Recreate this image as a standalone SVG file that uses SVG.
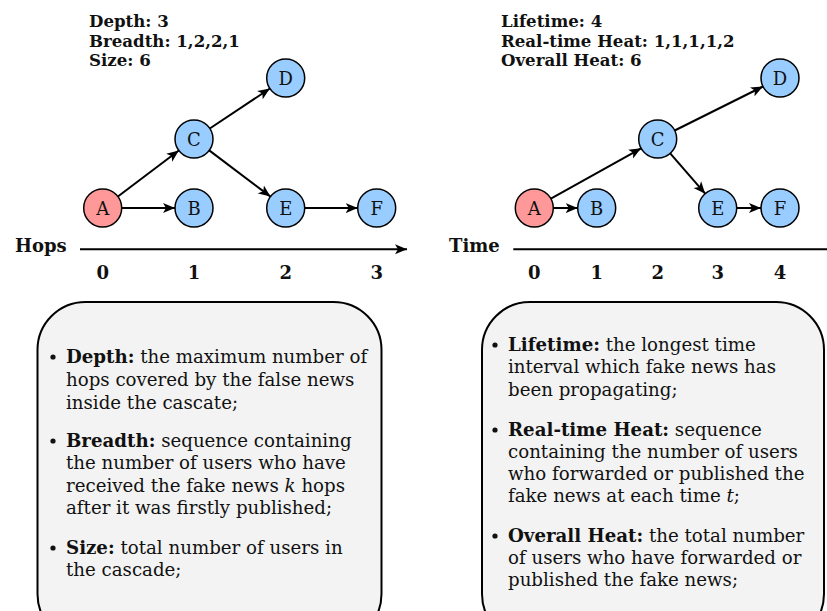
<svg xmlns="http://www.w3.org/2000/svg" width="827" height="611" viewBox="0 0 827 611">
<defs>
<marker id="ah" markerUnits="userSpaceOnUse" markerWidth="13" markerHeight="11" refX="12" refY="5.5" orient="auto">
<path d="M0,0.5 L12,5.5 L0,10.5 L3,5.5 Z" fill="#000"/>
</marker>
<style>
.n circle{stroke:#000;stroke-width:1.5}
.blue{fill:#99ccff}
.red{fill:#ff9999}
.nl{font-family:"DejaVu Serif",serif;font-size:18px;text-anchor:middle;dominant-baseline:central;fill:#111}
.e{stroke:#000;stroke-width:2;fill:none;marker-end:url(#ah)}
.ax{stroke:#000;stroke-width:2;fill:none}
.hd{font-family:"DejaVu Serif",serif;font-size:16.6px;font-weight:bold;fill:#111}
.tick{font-family:"DejaVu Serif",serif;font-size:18px;font-weight:bold;text-anchor:middle;fill:#111}
.axl{font-family:"DejaVu Serif",serif;font-size:18px;font-weight:bold;fill:#111}
.box{fill:#f3f3f3;stroke:#000;stroke-width:2}
.bt{font-family:"DejaVu Serif",serif;font-size:18.2px;fill:#111}
.b{font-weight:bold}
.i{font-style:italic}
</style>
</defs>
<rect width="827" height="611" fill="#fff"/>

<g id="left-stats">
<text class="hd" x="89" y="27">Depth: 3</text>
<text class="hd" x="89" y="46.5">Breadth: 1,2,2,1</text>
<text class="hd" x="89" y="66">Size: 6</text>
</g>
<g id="right-stats">
<text class="hd" x="501" y="27">Lifetime: 4</text>
<text class="hd" x="501" y="46.5">Real-time Heat: 1,1,1,1,2</text>
<text class="hd" x="501" y="66">Overall Heat: 6</text>
</g>

<g id="connectors">
<path class="e" d="M121.7,208 L175,208"/>
<path class="e" d="M117.9,196.5 L178.8,150.5"/>
<path class="e" d="M209.8,128.5 L269.9,88.5"/>
<path class="e" d="M209.2,150.4 L270.5,196.6"/>
<path class="e" d="M304.7,208 L357.7,208"/>
<path class="e" d="M553.3,208 L577.7,208"/>
<path class="e" d="M550.9,198.7 L641.1,148.3"/>
<path class="e" d="M674.7,130.5 L763,86.5"/>
<path class="e" d="M670.2,153.3 L705.2,193.7"/>
<path class="e" d="M736.7,208 L761,208"/>
</g>

<g id="hops-axis">
<path class="e" d="M80,249.3 L407,249.3"/>
<text class="axl" x="15" y="252">Hops</text>
<text class="tick" x="102.7" y="279">0</text>
<text class="tick" x="194" y="279">1</text>
<text class="tick" x="285.7" y="279">2</text>
<text class="tick" x="376.7" y="279">3</text>
</g>
<g id="time-axis">
<path class="ax" d="M513.3,249.3 L827,249.3"/>
<text class="axl" x="449" y="252">Time</text>
<text class="tick" x="534.3" y="279">0</text>
<text class="tick" x="596.7" y="279">1</text>
<text class="tick" x="657.7" y="279">2</text>
<text class="tick" x="717.7" y="279">3</text>
<text class="tick" x="780" y="279">4</text>
</g>

<g id="L-A" class="n"><circle class="red" cx="102.7" cy="208" r="19"/><text class="nl" x="102.7" y="208">A</text></g>
<g id="L-B" class="n"><circle class="blue" cx="194" cy="208" r="19"/><text class="nl" x="194" y="208">B</text></g>
<g id="L-C" class="n"><circle class="blue" cx="194" cy="139" r="19"/><text class="nl" x="194" y="139">C</text></g>
<g id="L-D" class="n"><circle class="blue" cx="285.7" cy="78" r="19"/><text class="nl" x="285.7" y="78">D</text></g>
<g id="L-E" class="n"><circle class="blue" cx="285.7" cy="208" r="19"/><text class="nl" x="285.7" y="208">E</text></g>
<g id="L-F" class="n"><circle class="blue" cx="376.7" cy="208" r="19"/><text class="nl" x="376.7" y="208">F</text></g>

<g id="R-A" class="n"><circle class="red" cx="534.3" cy="208" r="19"/><text class="nl" x="534.3" y="208">A</text></g>
<g id="R-B" class="n"><circle class="blue" cx="596.7" cy="208" r="19"/><text class="nl" x="596.7" y="208">B</text></g>
<g id="R-C" class="n"><circle class="blue" cx="657.7" cy="139" r="19"/><text class="nl" x="657.7" y="139">C</text></g>
<g id="R-D" class="n"><circle class="blue" cx="780" cy="78" r="19"/><text class="nl" x="780" y="78">D</text></g>
<g id="R-E" class="n"><circle class="blue" cx="717.7" cy="208" r="19"/><text class="nl" x="717.7" y="208">E</text></g>
<g id="R-F" class="n"><circle class="blue" cx="780" cy="208" r="19"/><text class="nl" x="780" y="208">F</text></g>

<g id="left-box">
<rect class="box" x="37.5" y="302" width="344" height="340" rx="48" ry="48"/>
<circle cx="53" cy="357" r="2.6" fill="#111"/>
<text class="bt" x="66" y="363"><tspan class="b">Depth:</tspan> the maximum number of</text>
<text class="bt" x="66" y="386">hops covered by the false news</text>
<text class="bt" x="66" y="409">inside the cascate;</text>
<circle cx="53" cy="441" r="2.6" fill="#111"/>
<text class="bt" x="66" y="447"><tspan class="b">Breadth:</tspan> sequence containing</text>
<text class="bt" x="66" y="469">the number of users who have</text>
<text class="bt" x="66" y="492">received the fake news <tspan class="i">k</tspan> hops</text>
<text class="bt" x="66" y="514">after it was firstly published;</text>
<circle cx="53" cy="548" r="2.6" fill="#111"/>
<text class="bt" x="66" y="554"><tspan class="b">Size:</tspan> total number of users in</text>
<text class="bt" x="66" y="576">the cascade;</text>
</g>

<g id="right-box">
<rect class="box" x="482" y="302" width="342" height="340" rx="48" ry="48"/>
<circle cx="495" cy="345" r="2.6" fill="#111"/>
<text class="bt" x="508" y="351"><tspan class="b">Lifetime:</tspan> the longest time</text>
<text class="bt" x="508" y="373">interval which fake news has</text>
<text class="bt" x="508" y="396">been propagating;</text>
<circle cx="495" cy="430" r="2.6" fill="#111"/>
<text class="bt" x="508" y="436"><tspan class="b">Real-time Heat:</tspan> sequence</text>
<text class="bt" x="508" y="458">containing the number of users</text>
<text class="bt" x="508" y="480">who forwarded or published the</text>
<text class="bt" x="508" y="502">fake news at each time <tspan class="i">t</tspan>;</text>
<circle cx="495" cy="536" r="2.6" fill="#111"/>
<text class="bt" x="508" y="542"><tspan class="b">Overall Heat:</tspan> the total number</text>
<text class="bt" x="508" y="564">of users who have forwarded or</text>
<text class="bt" x="508" y="586">published the fake news;</text>
</g>
</svg>
